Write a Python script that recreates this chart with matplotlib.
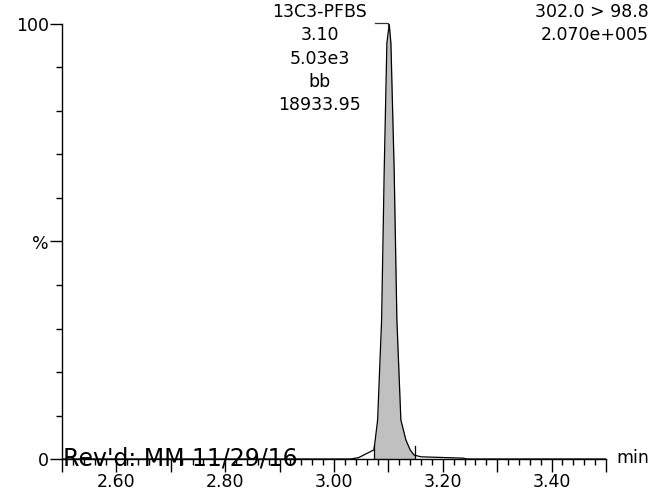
import matplotlib
matplotlib.use("Agg")
import matplotlib.pyplot as plt
import numpy as np

# Data
times = [2.50, 3.030, 3.045, 3.0734, 3.0758, 3.0802, 3.0875, 3.0923, 3.0972, 3.1015,
         3.1046, 3.1106, 3.1156, 3.1229, 3.1321, 3.1400, 3.1473, 3.160, 3.237, 3.245, 3.50]
intensity = [0.0, 0.0, 0.3, 2.1, 4.4, 9.0, 31.95, 66.4, 95.6, 100.0,
             95.6, 66.4, 31.95, 9.0, 4.4, 2.1, 0.9, 0.5, 0.2, 0.0, 0.0]
peak_start, peak_end = 3.0734, 3.149
peak_label = ["13C3-PFBS", "3.10", "5.03e3", "bb", "18933.95"]
header = ["302.0 > 98.8", "2.070e+005"]
x_labels = {2.60: "2.60", 2.80: "2.80", 3.00: "3.00", 3.20: "3.20", 3.40: "3.40"}
stamp = "Rev'd: MM 11/29/16"

plt.rcParams['font.family'] = ['DejaVu Sans']

W, H = 651, 494
fig = plt.figure(figsize=(W/100, H/100), dpi=100)
ax = fig.add_axes([62/W, 1-459/H, (606-62)/W, (459-24)/H])

t = np.array(times); y = np.array(intensity)
mask = (t >= peak_start) & (t <= peak_end)
tf = np.concatenate([[peak_start], t[mask], [peak_end]])
yf = np.interp(tf, t, y)
ax.fill_between(tf, 0, yf, color='#c0c0c0', lw=0, zorder=1)
ax.plot(t, y, color='black', lw=0.9, zorder=2)
for xb in (peak_start, peak_end):
    ax.plot([xb, xb], [0, 3.0], color='black', lw=0.9, zorder=3)

ax.set_xlim(2.5, 3.5)
ax.set_ylim(0, 100)
for s in ('top', 'right'):
    ax.spines[s].set_visible(False)
for s in ('left', 'bottom'):
    ax.spines[s].set_linewidth(1.0)

fs = 12.5
xmaj = np.round(np.arange(2.5, 3.5001, 0.1), 2)
ax.set_xticks(xmaj)
ax.set_xticklabels([x_labels.get(round(v, 2), "") for v in xmaj], fontsize=fs)
ax.set_xticks(np.round(np.arange(2.5, 3.5001, 0.02), 2), minor=True)
ax.set_yticks([0, 50, 100])
ax.set_yticklabels(["0", "%", "100"], fontsize=fs)
ax.set_yticks(np.arange(0, 101, 10), minor=True)
ax.tick_params(axis='both', which='major', length=9, width=1.0, direction='out', pad=1)
ax.tick_params(axis='both', which='minor', length=4.5, width=1.0, direction='out')
ax.tick_params(axis='y', which='major', pad=0.5)

# annotations
lbl_x, top_y = 320, 12
for i, s in enumerate(peak_label):
    fig.text(lbl_x/W, 1-(top_y + 23.3*i)/H, s, ha='center', va='center', fontsize=fs)
fig.add_artist(plt.Line2D([375/W, 388/W, 388/W], [1-23/H, 1-23/H, 1-26/H],
                          color='#333333', lw=0.9))
for i, s in enumerate(header):
    fig.text(649/W, 1-(top_y + 23.3*i)/H, s, ha='right', va='center', fontsize=fs)
fig.text(616/W, 1-458/H, "min", ha='left', va='center', fontsize=fs)
fig.text(63/W, 1-465/H, stamp, ha='left', va='baseline', fontsize=17)

fig.savefig("out.png", dpi=100)
